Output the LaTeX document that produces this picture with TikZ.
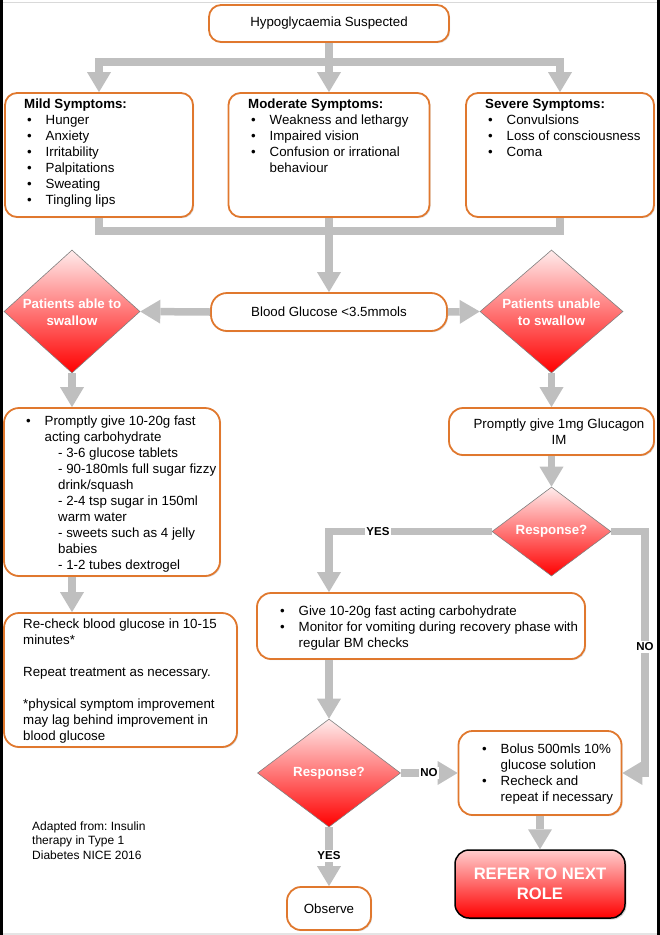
\documentclass[tikz,border=0pt]{standalone}
\usepackage{fontspec}
\setmainfont{Liberation Sans}
\usetikzlibrary{shapes.geometric,arrows.meta,shadows,calc}
\definecolor{orb}{RGB}{224,120,46}
\definecolor{cgray}{RGB}{191,191,191}
\definecolor{ltpink}{RGB}{255,236,236}
\definecolor{rfpink}{RGB}{255,205,205}
\newcommand\bl{\makebox[18.5pt][l]{•}}
\newcommand\ind{\hspace*{18.5pt}}
\begin{document}
\frenchspacing
\begin{tikzpicture}[x=1pt,y=-1pt,
  every node/.style={font=\fontsize{13.3pt}{16pt}\selectfont, inner sep=0pt},
  obox/.style={draw=orb, line width=1.8pt, rounded corners=12pt, fill=white,
    drop shadow={shadow xshift=1.2pt,shadow yshift=-1.2pt,opacity=0.25}},
  conn/.style={draw=cgray, line width=7.5pt},
  arr/.style={conn, -{Triangle[width=24pt,length=20pt,line width=0pt]}},
  dia/.style={diamond, draw=black!50, line width=0.6pt, top color=ltpink, bottom color=red},
  dtxt/.style={text=white, font=\bfseries\fontsize{13.3pt}{17pt}\selectfont, align=center},
  lbl/.style={fill=white, font=\bfseries\fontsize{11.5pt}{13pt}\selectfont, inner sep=1.5pt},
  txt/.style={anchor=base west}
]
\useasboundingbox (0,0) rectangle (660,935);
% screenshot frame
\fill[black] (0,0) rectangle (3.3,935);
\fill[black] (656.7,0) rectangle (660,935);
\fill[black!15] (3.3,1.5) rectangle (656.7,3);
\fill[black!10] (3.3,932.5) rectangle (656.7,934.5);

% boxes
\node[obox, minimum width=240pt, minimum height=37pt] (top) at (329,23.5) {Hypoglycaemia Suspected};
\node[obox, minimum width=188pt, minimum height=124pt] (mild) at (99,155) {};
\node[obox, minimum width=201pt, minimum height=124pt] (mod) at (329,155) {};
\node[obox, minimum width=188pt, minimum height=124pt] (sev) at (560,155) {};
\node[obox, rounded corners=16pt, minimum width=236pt, minimum height=38pt] (bg) at (329,312) {Blood Glucose <3.5mmols};
\node[dia, minimum width=136pt, minimum height=123pt] (ld) at (72,311.5) {};
\node[dia, minimum width=143pt, minimum height=123pt] (rd) at (551.5,311.5) {};
\node[obox, rounded corners=15pt, minimum width=216pt, minimum height=168pt] (lbox) at (112,492) {};
\node[obox, rounded corners=15pt, minimum width=233pt, minimum height=134pt] (rc) at (120.5,680) {};
\node[obox, rounded corners=14pt, minimum width=205pt, minimum height=47pt] (gl) at (551.5,431.5) {};
\node[dia, minimum width=119pt, minimum height=89pt] (rsp1) at (551.5,531.5) {};
\node[obox, rounded corners=14pt, minimum width=328pt, minimum height=66pt] (give) at (421,626) {};
\node[dia, minimum width=143pt, minimum height=108pt] (rsp2) at (329,773) {};
\node[obox, rounded corners=14pt, minimum width=163pt, minimum height=84pt] (bolus) at (540,773) {};
\node[draw=black, line width=1.5pt, rounded corners=14pt, top color=rfpink, bottom color=red,
  minimum width=170pt, minimum height=68pt, text=white, align=center,
  font=\bfseries\fontsize{16.6pt}{20pt}\selectfont,
  drop shadow={shadow xshift=1.5pt,shadow yshift=-1.5pt,opacity=0.35}] (refer) at (540,884) {REFER TO NEXT\\ROLE};
\node[obox, rounded corners=14pt, minimum width=84pt, minimum height=43pt] (obs) at (329,908.5) {Observe};

% texts
\node[txt] (mildt) at (24,108) {\parbox[t]{165pt}{\textbf{Mild Symptoms:}\\
 \hspace*{3pt}\bl Hunger\\
 \hspace*{3pt}\bl Anxiety\\
 \hspace*{3pt}\bl Irritability\\
 \hspace*{3pt}\bl Palpitations\\
 \hspace*{3pt}\bl Sweating\\
 \hspace*{3pt}\bl Tingling lips}};
\node[txt] (modt) at (248,108) {\parbox[t]{180pt}{\textbf{Moderate Symptoms:}\\
 \hspace*{3pt}\bl Weakness and lethargy\\
 \hspace*{3pt}\bl Impaired vision\\
 \hspace*{3pt}\bl Confusion or irrational\\
 \hspace*{3pt}\ind behaviour}};
\node[txt] (sevt) at (485,108) {\parbox[t]{170pt}{\textbf{Severe Symptoms:}\\
 \hspace*{3pt}\bl Convulsions\\
 \hspace*{3pt}\bl Loss of consciousness\\
 \hspace*{3pt}\bl Coma}};
\node[txt] (lboxt) at (26,425) {\parbox[t]{190pt}{\bl Promptly give 10-20g fast\\
 \ind acting carbohydrate\\
 \hspace*{32pt}- 3-6 glucose tablets\\
 \hspace*{32pt}- 90-180mls full sugar fizzy\\
 \hspace*{32pt}drink/squash\\
 \hspace*{32pt}- 2-4 tsp sugar in 150ml\\
 \hspace*{32pt}warm water\\
 \hspace*{32pt}- sweets such as 4 jelly\\
 \hspace*{32pt}babies\\
 \hspace*{32pt}- 1-2 tubes dextrogel}};
\node[txt] (rct) at (23,628) {\parbox[t]{210pt}{Re-check blood glucose in 10-15\\
 minutes*\\[16pt]
 Repeat treatment as necessary.\\[16pt]
 *physical symptom improvement\\
 may lag behind improvement in\\
 blood glucose}};
\node[align=center] (glt) at (559,432) {Promptly give 1mg Glucagon\\IM};
\node[txt] (givet) at (280,615) {\parbox[t]{300pt}{\bl Give 10-20g fast acting carbohydrate\\
 \bl Monitor for vomiting during recovery phase with\\
 \ind regular BM checks}};
\node[txt] (bolust) at (482,753) {\parbox[t]{140pt}{\bl Bolus 500mls 10\%\\
 \ind glucose solution\\
 \bl Recheck and\\
 \ind repeat if necessary}};
\node[txt, font=\fontsize{12pt}{14.5pt}\selectfont] (adapt) at (32,830) {\parbox[t]{150pt}{Adapted from: Insulin\\therapy in Type 1\\Diabetes NICE 2016}};

\node[dtxt] (ldt) at (72,312) {Patients able to\\swallow};
\node[dtxt] (rdt) at (551.5,312) {Patients unable\\to swallow};
\node[dtxt] (r1t) at (551.5,531.5) {Response?};
\node[dtxt] (r2t) at (329,773) {Response?};

% connectors
\coordinate (bar1) at (329,62);
\coordinate (bar2) at (329,231);
\coordinate (nox) at (645,531.5);
\draw[arr] (bar1) -| (mild.north);
\draw[arr] (bar1) -| (sev.north);
\draw[arr] (top.south) -- (mod.north);
\draw[conn] (mild.south) |- (bar2);
\draw[conn] (sev.south) |- (bar2);
\draw[arr] (mod.south) -- (bg.north);
\draw[arr] (bg.west) -- (ld.east);
\draw[arr] (bg.east) -- (rd.west);
\draw[arr] (ld.south) -- (ld.south |- lbox.north);
\draw[arr] (ld.south |- lbox.south) -- (ld.south |- rc.north);
\draw[arr] (rd.south) -- (gl.north);
\draw[arr] (gl.south) -- (rsp1.north);
\draw[arr] (rsp1.west) -| (rsp2.north |- give.north);
\draw[arr] (rsp1.east) -| (nox |- bolus.east) -- (bolus.east);
\draw[arr] (rsp2.north |- give.south) -- (rsp2.north);
\draw[arr] (rsp2.east) -- (bolus.west);
\draw[arr] (rsp2.south) -- (obs.north);
\draw[arr] (bolus.south) -- (refer.north);

\node[lbl] (yes1) at (378,531.5) {YES};
\node[lbl] (no1) at (645,647) {NO};
\node[lbl] (no2) at (429,773) {NO};
\node[lbl] (yes2) at (329,856) {YES};
\end{tikzpicture}
\end{document}
